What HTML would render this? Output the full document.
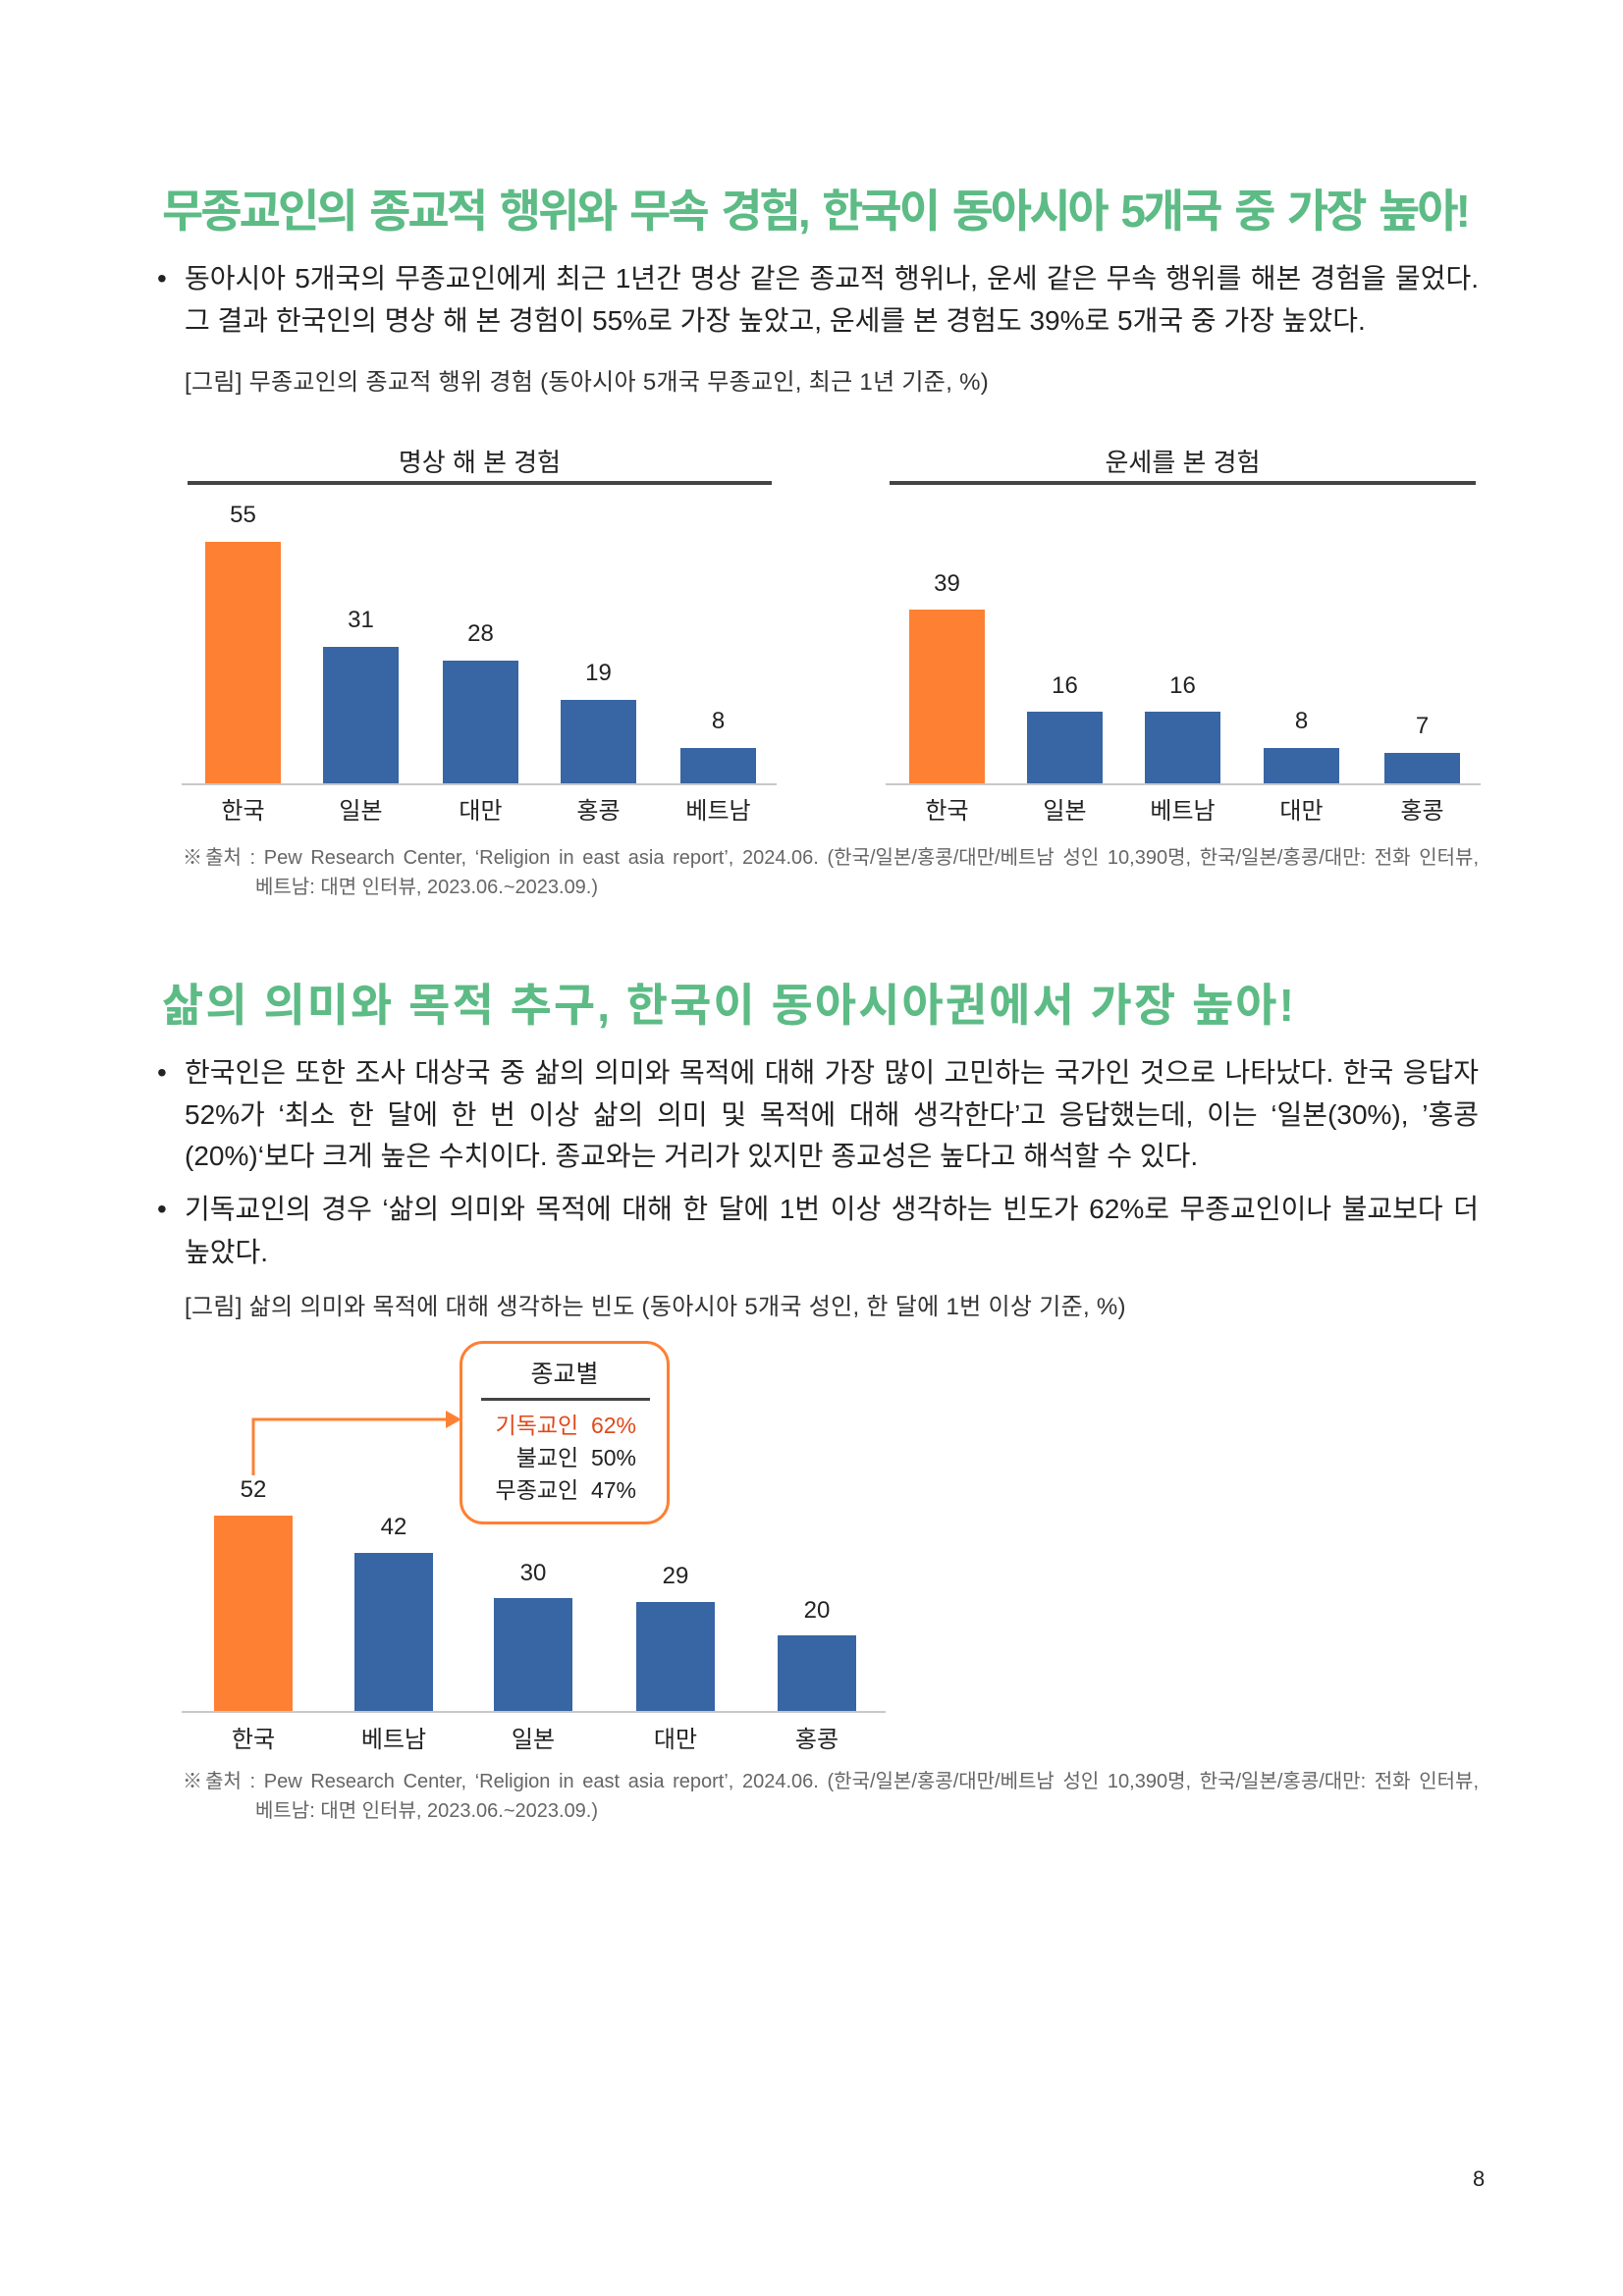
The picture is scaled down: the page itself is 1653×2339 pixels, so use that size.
<!DOCTYPE html>
<html><head><meta charset="utf-8"><style>
*{margin:0;padding:0;box-sizing:border-box}
body{width:1653px;height:2339px;background:#fff;position:relative;font-family:"Liberation Sans","Noto Sans CJK KR",sans-serif;color:#222;overflow:hidden}
.a{position:absolute;white-space:nowrap}
.t{position:absolute;font-weight:bold;color:#5dbb85;font-size:46px;letter-spacing:-3px;line-height:1;white-space:nowrap}
.ln{position:absolute;font-size:28px;line-height:1;letter-spacing:0;white-space:nowrap}
.j{text-align:justify;text-align-last:justify;white-space:normal}
.cap{position:absolute;font-size:24px;letter-spacing:0.3px;line-height:1;white-space:nowrap;color:#333}
.src{position:absolute;font-size:20px;letter-spacing:0;line-height:1;white-space:nowrap;color:#666}
.bar{position:absolute}
.o{background:#fe8033}.b{background:#3865a3}
.v{position:absolute;font-size:24px;text-align:center;line-height:1;color:#222}
.lb{position:absolute;font-size:24px;text-align:center;line-height:1;color:#222}
.ax{position:absolute;height:2px;background:#c8c8c8}
.hl{position:absolute;height:4px;background:#444}
.dot{position:absolute;font-size:28px;line-height:1}
</style></head><body>

<div class="t j" style="left:165px;top:192px;width:1330px">무종교인의 종교적 행위와 무속 경험, 한국이 동아시아 5개국 중 가장 높아!</div>

<div class="dot" style="left:160px;top:270px">•</div>
<div class="ln j" style="left:188px;top:270px;width:1318px">동아시아 5개국의 무종교인에게 최근 1년간 명상 같은 종교적 행위나, 운세 같은 무속 행위를 해본 경험을 물었다.</div>
<div class="ln" style="left:188px;top:313px">그 결과 한국인의 명상 해 본 경험이 55%로 가장 높았고, 운세를 본 경험도 39%로 5개국 중 가장 높았다.</div>
<div class="cap" style="left:188px;top:378px">[그림] 무종교인의 종교적 행위 경험 (동아시아 5개국 무종교인, 최근 1년 기준, %)</div>

<div class="a" style="left:191px;width:595px;top:451px;text-align:center;font-size:26px">명상 해 본 경험</div>
<div class="hl" style="left:191px;top:490px;width:595px"></div>
<div class="a" style="left:906px;width:597px;top:451px;text-align:center;font-size:26px">운세를 본 경험</div>
<div class="hl" style="left:906px;top:490px;width:597px"></div>

<!-- chart 1 -->
<div class="bar o" style="left:209px;top:552px;width:77px;height:246px"></div>
<div class="bar b" style="left:329px;top:659px;width:77px;height:139px"></div>
<div class="bar b" style="left:451px;top:673px;width:77px;height:125px"></div>
<div class="bar b" style="left:571px;top:713px;width:77px;height:85px"></div>
<div class="bar b" style="left:693px;top:762px;width:77px;height:36px"></div>
<div class="ax" style="left:185px;top:798px;width:606px"></div>
<div class="v" style="left:209px;width:77px;top:513px">55</div>
<div class="v" style="left:329px;width:77px;top:620px">31</div>
<div class="v" style="left:451px;width:77px;top:634px">28</div>
<div class="v" style="left:571px;width:77px;top:674px">19</div>
<div class="v" style="left:693px;width:77px;top:723px">8</div>
<div class="lb" style="left:199px;width:97px;top:815px">한국</div>
<div class="lb" style="left:319px;width:97px;top:815px">일본</div>
<div class="lb" style="left:441px;width:97px;top:815px">대만</div>
<div class="lb" style="left:561px;width:97px;top:815px">홍콩</div>
<div class="lb" style="left:683px;width:97px;top:815px">베트남</div>

<!-- chart 2 -->
<div class="bar o" style="left:926px;top:621px;width:77px;height:177px"></div>
<div class="bar b" style="left:1046px;top:725px;width:77px;height:73px"></div>
<div class="bar b" style="left:1166px;top:725px;width:77px;height:73px"></div>
<div class="bar b" style="left:1287px;top:762px;width:77px;height:36px"></div>
<div class="bar b" style="left:1410px;top:767px;width:77px;height:31px"></div>
<div class="ax" style="left:902px;top:798px;width:606px"></div>
<div class="v" style="left:926px;width:77px;top:583px">39</div>
<div class="v" style="left:1046px;width:77px;top:687px">16</div>
<div class="v" style="left:1166px;width:77px;top:687px">16</div>
<div class="v" style="left:1287px;width:77px;top:723px">8</div>
<div class="v" style="left:1410px;width:77px;top:728px">7</div>
<div class="lb" style="left:916px;width:97px;top:815px">한국</div>
<div class="lb" style="left:1036px;width:97px;top:815px">일본</div>
<div class="lb" style="left:1156px;width:97px;top:815px">베트남</div>
<div class="lb" style="left:1277px;width:97px;top:815px">대만</div>
<div class="lb" style="left:1400px;width:97px;top:815px">홍콩</div>

<div class="src j" style="left:186px;top:864px;width:1320px">※출처 : Pew Research Center, ‘Religion in east asia report’, 2024.06. (한국/일본/홍콩/대만/베트남 성인 10,390명, 한국/일본/홍콩/대만: 전화 인터뷰,</div>
<div class="src" style="left:260px;top:894px">베트남: 대면 인터뷰, 2023.06.~2023.09.)</div>

<div class="t" style="left:165px;top:1001px;letter-spacing:2px">삶의 의미와 목적 추구, 한국이 동아시아권에서 가장 높아!</div>

<div class="dot" style="left:160px;top:1079px">•</div>
<div class="ln j" style="left:188px;top:1079px;width:1318px">한국인은 또한 조사 대상국 중 삶의 의미와 목적에 대해 가장 많이 고민하는 국가인 것으로 나타났다. 한국 응답자</div>
<div class="ln j" style="left:188px;top:1122px;width:1318px">52%가 ‘최소 한 달에 한 번 이상 삶의 의미 및 목적에 대해 생각한다’고 응답했는데, 이는 ‘일본(30%), ’홍콩</div>
<div class="ln" style="left:188px;top:1164px">(20%)‘보다 크게 높은 수치이다. 종교와는 거리가 있지만 종교성은 높다고 해석할 수 있다.</div>
<div class="dot" style="left:160px;top:1218px">•</div>
<div class="ln j" style="left:188px;top:1218px;width:1318px">기독교인의 경우 ‘삶의 의미와 목적에 대해 한 달에 1번 이상 생각하는 빈도가 62%로 무종교인이나 불교보다 더</div>
<div class="ln" style="left:188px;top:1262px">높았다.</div>
<div class="cap" style="left:188px;top:1320px">[그림] 삶의 의미와 목적에 대해 생각하는 빈도 (동아시아 5개국 성인, 한 달에 1번 이상 기준, %)</div>

<!-- box -->
<div class="a" style="left:468px;top:1366px;width:214px;height:187px;border:3px solid #fe8033;border-radius:24px"></div>
<div class="a" style="left:468px;width:214px;top:1388px;text-align:center;font-size:25px;line-height:1">종교별</div>
<div class="a" style="left:490px;top:1424px;width:172px;height:3px;background:#444"></div>
<div class="a" style="left:480px;width:168px;top:1441px;text-align:right;font-size:23px;line-height:1;color:#e0491a">기독교인 &nbsp;62%</div>
<div class="a" style="left:480px;width:168px;top:1474px;text-align:right;font-size:23px;line-height:1">불교인 &nbsp;50%</div>
<div class="a" style="left:480px;width:168px;top:1507px;text-align:right;font-size:23px;line-height:1">무종교인 &nbsp;47%</div>
<svg class="a" style="left:0;top:0" width="1653" height="2339"><path d="M258 1503 V1446 H455" fill="none" stroke="#fe8033" stroke-width="3"/><polygon points="454,1437 470,1446 454,1455" fill="#fe8033"/></svg>

<!-- chart 3 -->
<div class="bar o" style="left:218px;top:1544px;width:80px;height:199px"></div>
<div class="bar b" style="left:361px;top:1582px;width:80px;height:161px"></div>
<div class="bar b" style="left:503px;top:1628px;width:80px;height:115px"></div>
<div class="bar b" style="left:648px;top:1632px;width:80px;height:111px"></div>
<div class="bar b" style="left:792px;top:1666px;width:80px;height:77px"></div>
<div class="ax" style="left:185px;top:1743px;width:717px"></div>
<div class="v" style="left:218px;width:80px;top:1506px">52</div>
<div class="v" style="left:361px;width:80px;top:1544px">42</div>
<div class="v" style="left:503px;width:80px;top:1591px">30</div>
<div class="v" style="left:648px;width:80px;top:1594px">29</div>
<div class="v" style="left:792px;width:80px;top:1629px">20</div>
<div class="lb" style="left:208px;width:100px;top:1761px">한국</div>
<div class="lb" style="left:351px;width:100px;top:1761px">베트남</div>
<div class="lb" style="left:493px;width:100px;top:1761px">일본</div>
<div class="lb" style="left:638px;width:100px;top:1761px">대만</div>
<div class="lb" style="left:782px;width:100px;top:1761px">홍콩</div>

<div class="src j" style="left:186px;top:1805px;width:1320px">※출처 : Pew Research Center, ‘Religion in east asia report’, 2024.06. (한국/일본/홍콩/대만/베트남 성인 10,390명, 한국/일본/홍콩/대만: 전화 인터뷰,</div>
<div class="src" style="left:260px;top:1835px">베트남: 대면 인터뷰, 2023.06.~2023.09.)</div>

<div class="a" style="left:1500px;top:2207px;font-size:22px">8</div>
</body></html>
